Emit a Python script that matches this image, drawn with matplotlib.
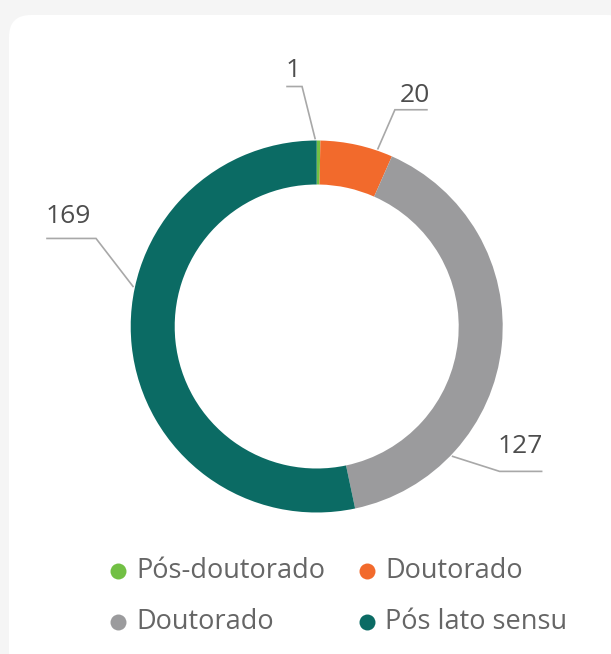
import matplotlib as mpl
mpl.use('Agg')
import matplotlib.pyplot as plt
import numpy as np
from matplotlib.patches import FancyBboxPatch

mpl.rcParams['font.family'] = ['Open Sans', 'DejaVu Sans']

# Data
categories = ['Pós-doutorado', 'Doutorado', 'Doutorado', 'Pós lato sensu']
values = [1, 20, 127, 169]
colors = ['#72c044', '#f26a2c', '#9b9b9d', '#0b6b64']

# Layout (pixel units, y measured from the top of the image)
W, H = 611, 654
center_px = (316.7, 326.5)
r_outer = 186
ring_width = 44

# leader lines: anchor angle on the ring, elbow offset, horizontal run, text offset
label_angles = [90.5, 71.0, -43.7, 167.7]
elbow_offsets = [(-13, -52), (17, -39), (47, 15), (-37, -48)]
horiz_runs = [-15, 32, 42, -49]
text_offsets = [(-1.5, -16), (4, -14.5), (0, -24.5), (-3, -22)]


def to_data(x, y):
    return x, H - y


fig = plt.figure(figsize=(W / 100, H / 100), dpi=100)
fig.patch.set_facecolor('#f5f5f5')
ax = fig.add_axes([0, 0, 1, 1])

# white card
card = FancyBboxPatch((9, -20), 620, H - 15 + 20, boxstyle='round,pad=0,rounding_size=22',
                      facecolor='white', edgecolor='none', zorder=0)
ax.add_patch(card)

cx, cy = to_data(*center_px)
ax.pie(values, colors=colors, startangle=90, counterclock=False,
       radius=r_outer, center=(cx, cy), frame=True,
       wedgeprops=dict(width=ring_width, edgecolor='none'))
ax.set_xlim(0, W)
ax.set_ylim(0, H)
ax.set_aspect('equal')
ax.axis('off')

# value labels with leader lines
for val, ang, (ex, ey), run, (tx, ty) in zip(values, label_angles, elbow_offsets,
                                              horiz_runs, text_offsets):
    a = np.deg2rad(ang)
    x0 = cx + (r_outer + 2) * np.cos(a)
    y0 = cy + (r_outer + 2) * np.sin(a)
    x1, y1 = x0 + ex, y0 - ey
    x2 = x1 + run
    ax.plot([x0, x1, x2], [y0, y1, y1], color='#a8a8a8', lw=1.2,
            solid_joinstyle='miter', zorder=3)
    ax.text(x1 + run / 2 + tx, y1 - ty, str(val),
            ha='center', va='center', fontsize=19, color='#4d4d4d')

# legend
legend_pos = [(118, 571), (367, 571), (118, 622), (367, 622)]
for (lx, ly), name, col in zip(legend_pos, categories, colors):
    x, y = to_data(lx, ly)
    ax.plot(x, y, 'o', ms=11.5, color=col, mec='none')
    ax.text(x + 18, y, name, ha='left', va='center', fontsize=19.5, color='#666666')

fig.savefig('out.png', dpi=100, facecolor=fig.get_facecolor())
